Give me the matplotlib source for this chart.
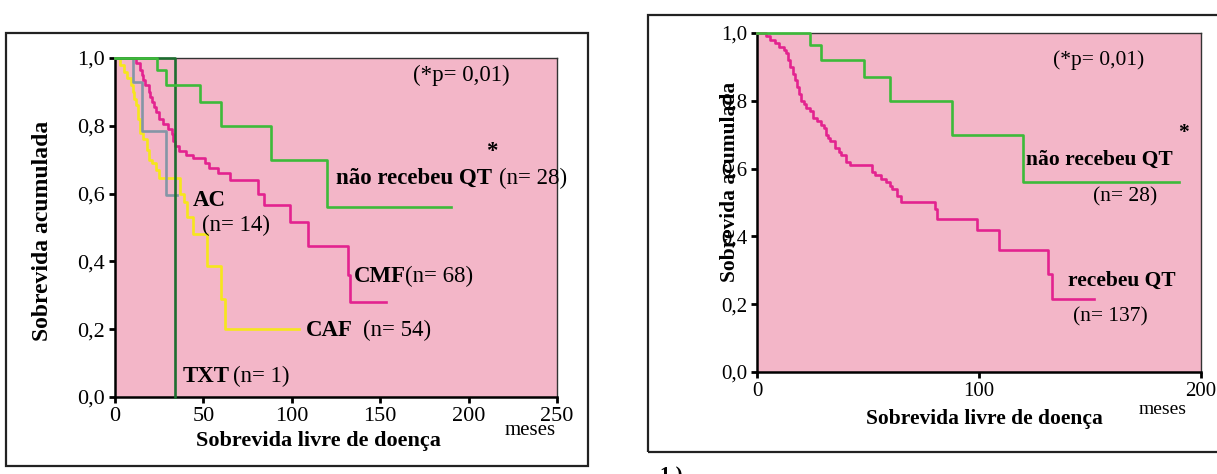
import matplotlib
matplotlib.use("Agg")
import matplotlib.pyplot as plt
from matplotlib.patches import Rectangle

plt.rcParams["font.family"] = ["Liberation Serif", "DejaVu Serif"]

# Kaplan-Meier curves (months, cumulative survival); last point = end of follow-up
# não recebeu QT (n=28) - used in both panels
t_sem_qt = [0, 24, 29, 48, 60, 88, 120, 190]
s_sem_qt = [1.0, 0.964, 0.92, 0.87, 0.80, 0.70, 0.56, 0.56]

# recebeu QT (n=137)
t_qt = [0, 4, 6, 8, 10, 12, 13, 14, 15, 16, 17, 18, 19, 20, 21, 22, 24, 25, 27, 29,
        30, 31, 32, 33, 35, 37, 38, 40, 42, 52, 53, 56, 58, 60, 61, 63, 65, 80, 81, 99,
        109, 131, 133, 152]
s_qt = [1.0, 0.99, 0.98, 0.97, 0.96, 0.95, 0.94, 0.92, 0.90, 0.88, 0.86, 0.84, 0.82, 0.80,
        0.79, 0.78, 0.77, 0.75, 0.74, 0.73, 0.72, 0.70, 0.69, 0.68, 0.66, 0.65, 0.64, 0.62,
        0.61, 0.59, 0.58, 0.57, 0.56, 0.55, 0.54, 0.52, 0.50, 0.48, 0.45, 0.42, 0.36, 0.29,
        0.215, 0.215]

# CMF (n=68)
t_cmf = [0, 12, 14, 15, 16, 17, 19, 20, 21, 22, 23, 25, 27, 30, 32, 33, 34, 36, 40, 44,
         51, 53, 58, 65, 81, 84, 99, 109, 132, 133, 153]
s_cmf = [1.0, 0.985, 0.965, 0.95, 0.935, 0.92, 0.90, 0.885, 0.87, 0.855, 0.84, 0.82, 0.805,
         0.79, 0.775, 0.755, 0.74, 0.725, 0.715, 0.705, 0.69, 0.675, 0.66, 0.64, 0.60, 0.565,
         0.515, 0.445, 0.36, 0.28, 0.28]

# CAF (n=54)
t_caf = [0, 3, 5, 7, 9, 10, 11, 12, 13, 14, 16, 18, 19, 21, 23, 25, 37, 39, 41, 44,
         52, 60, 62, 104]
s_caf = [1.0, 0.98, 0.96, 0.94, 0.92, 0.90, 0.88, 0.86, 0.82, 0.78, 0.76, 0.73, 0.70, 0.69,
         0.67, 0.645, 0.60, 0.575, 0.53, 0.48, 0.385, 0.29, 0.20, 0.20]

# AC (n=14)
t_ac = [0, 10, 15, 29, 35]
s_ac = [1.0, 0.93, 0.785, 0.595, 0.595]

# TXT (n=1)
t_txt = [0, 34]
s_txt = [1.0, 0.0]

y_ticks = [0.0, 0.2, 0.4, 0.6, 0.8, 1.0]
y_ticklabels = ["0,0", "0,2", "0,4", "0,6", "0,8", "1,0"]
x_ticks_left = [0, 50, 100, 150, 200, 250]
x_ticks_right = [0, 100, 200]

PINK = "#f3b6c8"
GREEN = "#3dba3a"
MAGENTA = "#e3238f"
YELLOW = "#f6e61c"
GRAY = "#8496a6"
DARK_GREEN = "#1d6e2f"
LW = 1.9


def style_axes(ax, xmax, xticks, size):
    ax.set_facecolor(PINK)
    ax.set_xlim(0, xmax)
    ax.set_ylim(0, 1.0)
    ax.set_xticks(xticks)
    ax.set_xticklabels([str(x) for x in xticks])
    ax.set_yticks(y_ticks)
    ax.set_yticklabels(y_ticklabels)
    ax.tick_params(direction="out", length=4, width=2, labelsize=size, pad=3, color="black")
    for side in ["left", "bottom"]:
        ax.spines[side].set_linewidth(1.8)
    for side in ["top", "right"]:
        ax.spines[side].set_linewidth(1.0)
        ax.spines[side].set_color("#333333")


def km(ax, t, s, color):
    ax.step(t, s, where="post", color=color, lw=LW, clip_on=False, zorder=3)


fig = plt.figure(figsize=(12.17, 4.74), dpi=100)

# outer frames around each chart
fig.patches.append(Rectangle((6 / 1217, 1 - 466 / 474), 582 / 1217, 433 / 474,
                             transform=fig.transFigure, fill=False, lw=1.6, ec="#222222"))
fig.patches.append(Rectangle((648 / 1217, 1 - 452 / 474), 600 / 1217, 437 / 474,
                             transform=fig.transFigure, fill=False, lw=1.6, ec="#222222"))

# ---- left: by regimen ----
ax1 = fig.add_axes([115 / 1217, 1 - 397 / 474, 442 / 1217, 339 / 474])
style_axes(ax1, 250, x_ticks_left, 16)
km(ax1, t_caf, s_caf, YELLOW)
km(ax1, t_ac, s_ac, GRAY)
km(ax1, t_cmf, s_cmf, MAGENTA)
km(ax1, t_txt, s_txt, DARK_GREEN)
km(ax1, t_sem_qt, s_sem_qt, GREEN)

fs1 = 16.5
bold1 = dict(fontsize=fs1, fontweight="bold", va="center", ha="left")
norm1 = dict(fontsize=fs1, va="center", ha="left")
ax1.text(196, 0.95, "(*p= 0,01)", fontsize=fs1, va="center", ha="center")
ax1.text(125, 0.645, "não recebeu QT", **bold1)
ax1.text(217, 0.645, "(n= 28)", **norm1)
ax1.text(213, 0.725, "*", fontsize=fs1, fontweight="bold", ha="center", va="center")
ax1.text(44, 0.58, "AC", **bold1)
ax1.text(49, 0.505, "(n= 14)", **norm1)
ax1.text(135, 0.355, "CMF", **bold1)
ax1.text(164, 0.355, "(n= 68)", **norm1)
ax1.text(108, 0.195, "CAF", **bold1)
ax1.text(140, 0.195, "(n= 54)", **norm1)
ax1.text(38, 0.06, "TXT", **bold1)
ax1.text(67, 0.06, "(n= 1)", **norm1)

ax1.set_ylabel("Sobrevida acumulada", fontsize=17, fontweight="bold")
ax1.yaxis.set_label_coords(-0.14, 0.49)
ax1.text(0.46, -0.13, "Sobrevida livre de doença", transform=ax1.transAxes,
         fontsize=16, fontweight="bold", ha="center", va="center")
ax1.text(0.94, -0.1, "meses", transform=ax1.transAxes, fontsize=15,
         ha="center", va="center")

# ---- right: received chemotherapy or not ----
ax2 = fig.add_axes([757 / 1217, 1 - 372 / 474, 444 / 1217, 339 / 474])
style_axes(ax2, 200, x_ticks_right, 15)
km(ax2, t_qt, s_qt, MAGENTA)
km(ax2, t_sem_qt, s_sem_qt, GREEN)

fs2 = 15.5
bold2 = dict(fontsize=fs2, fontweight="bold", va="center", ha="left")
ax2.text(154, 0.92, "(*p= 0,01)", fontsize=fs2, va="center", ha="center")
ax2.text(121, 0.625, "não recebeu QT", **bold2)
ax2.text(192, 0.705, "*", fontsize=fs2, fontweight="bold", ha="center", va="center")
ax2.text(166, 0.516, "(n= 28)", fontsize=fs2, va="center", ha="center")
ax2.text(140, 0.27, "recebeu QT", **bold2)
ax2.text(159, 0.162, "(n= 137)", fontsize=fs2, va="center", ha="center")

ax2.set_ylabel("Sobrevida acumulada", fontsize=15.5, fontweight="bold")
ax2.yaxis.set_label_coords(-0.038, 0.56)
ax2.text(0.513, -0.14, "Sobrevida livre de doença", transform=ax2.transAxes,
         fontsize=15.5, fontweight="bold", ha="center", va="center")
ax2.text(0.914, -0.112, "meses", transform=ax2.transAxes, fontsize=14,
         ha="center", va="center")

fig.text(660 / 1217, 1 - 476 / 474, "1 )", fontsize=15, fontweight="bold",
         ha="left", va="center")

fig.savefig("out.png", dpi=100, facecolor="white")
